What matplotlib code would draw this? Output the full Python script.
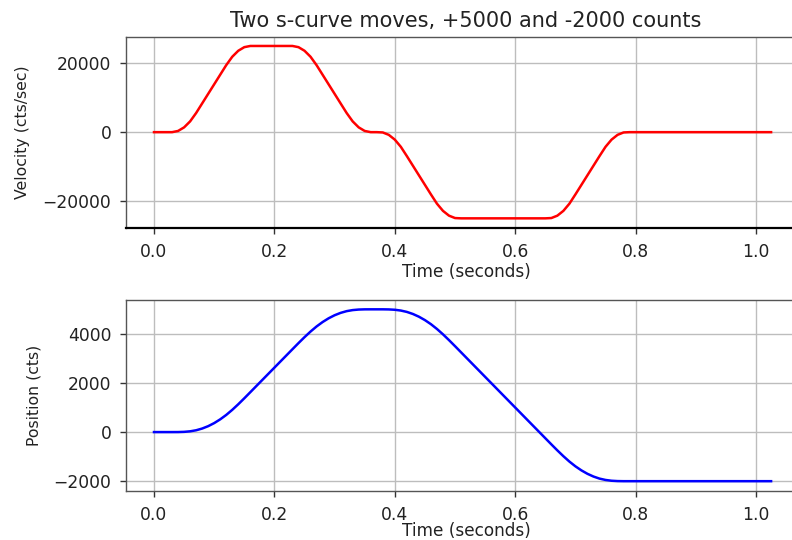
import numpy as np
import matplotlib
matplotlib.use("Agg")
import matplotlib.pyplot as plt

# sample times (s), 10 ms grid, last sample at 1.025
t = np.append(np.arange(103) * 0.01, 1.025)

# velocity (cts/sec)
vel = [
    0, 0, 0, 0, 347, 1389, 3125, 5556, 8333, 11111,
    13889, 16667, 19444, 21875, 23611, 24653, 25000, 25000, 25000, 25000,
    25000, 25000, 25000, 25000, 24653, 23611, 21875, 19444, 16667, 13889,
    11111, 8333, 5556, 3125, 1389, 347, 0, 0, -87, -781,
    -2170, -4253, -6944, -9722, -12500, -15278, -18056, -20747, -22830, -24219,
    -24913, -25000, -25000, -25000, -25000, -25000, -25000, -25000, -25000, -25000,
    -25000, -25000, -25000, -25000, -25000, -25000, -24913, -24219, -22830, -20747,
    -18056, -15278, -12500, -9722, -6944, -4253, -2170, -781, -87, 0,
    0, 0, 0, 0, 0, 0, 0, 0, 0, 0,
    0, 0, 0, 0, 0, 0, 0, 0, 0, 0,
    0, 0, 0, 0,
]

# position (cts)
pos = [
    0, 0, 0, 0, 1, 9, 31, 74, 144, 241,
    366, 519, 699, 906, 1134, 1376, 1625, 1875, 2125, 2375,
    2625, 2875, 3125, 3375, 3624, 3866, 4094, 4301, 4481, 4634,
    4759, 4856, 4926, 4969, 4991, 4999, 5000, 5000, 5000, 4996,
    4982, 4950, 4895, 4811, 4700, 4561, 4395, 4200, 3982, 3746,
    3500, 3250, 3000, 2750, 2500, 2250, 2000, 1750, 1500, 1250,
    1000, 750, 500, 250, 0, -250, -500, -746, -982, -1201,
    -1395, -1561, -1700, -1811, -1895, -1950, -1982, -1996, -2000, -2000,
    -2000, -2000, -2000, -2000, -2000, -2000, -2000, -2000, -2000, -2000,
    -2000, -2000, -2000, -2000, -2000, -2000, -2000, -2000, -2000, -2000,
    -2000, -2000, -2000, -2000,
]

xticks = [0.0, 0.2, 0.4, 0.6, 0.8, 1.0]

fig = plt.figure(figsize=(7.92, 5.40), dpi=100)

# axes placed in pixels; the right edge runs past the figure like the reference
ax1 = fig.add_axes([126 / 792, (540 - 228) / 540, 680 / 792, 191 / 540])
ax2 = fig.add_axes([126 / 792, (540 - 491) / 540, 680 / 792, 191 / 540])

for ax in (ax1, ax2):
    ax.grid(True, color="#bdbdbd", lw=1.0)
    ax.set_axisbelow(True)
    ax.set_xlim(-0.0465, 1.083)
    ax.set_xticks(xticks)
    ax.tick_params(labelsize=12.3, length=4.5, width=1.0, pad=6,
                   colors="#333333", labelcolor="#222222")
    for s in ax.spines.values():
        s.set_color("#555555")
        s.set_linewidth(1.0)

ax1.spines["bottom"].set_color("black")
ax1.spines["bottom"].set_linewidth(1.6)

ax1.plot(t, vel, color="red", lw=1.8)
ax1.set_ylim(-27800, 27600)
ax1.set_yticks([-20000, 0, 20000])
ax1.set_xlabel("Time (seconds)", fontsize=12.2, color="#222222", labelpad=2)
ax1.set_ylabel("Velocity (cts/sec)", fontsize=11.3, color="#222222", labelpad=9)
ax1.set_title("Two s-curve moves, +5000 and -2000 counts", fontsize=15,
              color="#222222", pad=7)

ax2.plot(t, pos, color="blue", lw=1.8)
ax2.set_ylim(-2400, 5380)
ax2.set_yticks([-2000, 0, 2000, 4000])
ax2.set_xlabel("Time (seconds)", fontsize=12.2, color="#222222", labelpad=-1)
ax2.set_ylabel("Position (cts)", fontsize=11.3, color="#222222", labelpad=9)

fig.savefig("out.png", dpi=100)
